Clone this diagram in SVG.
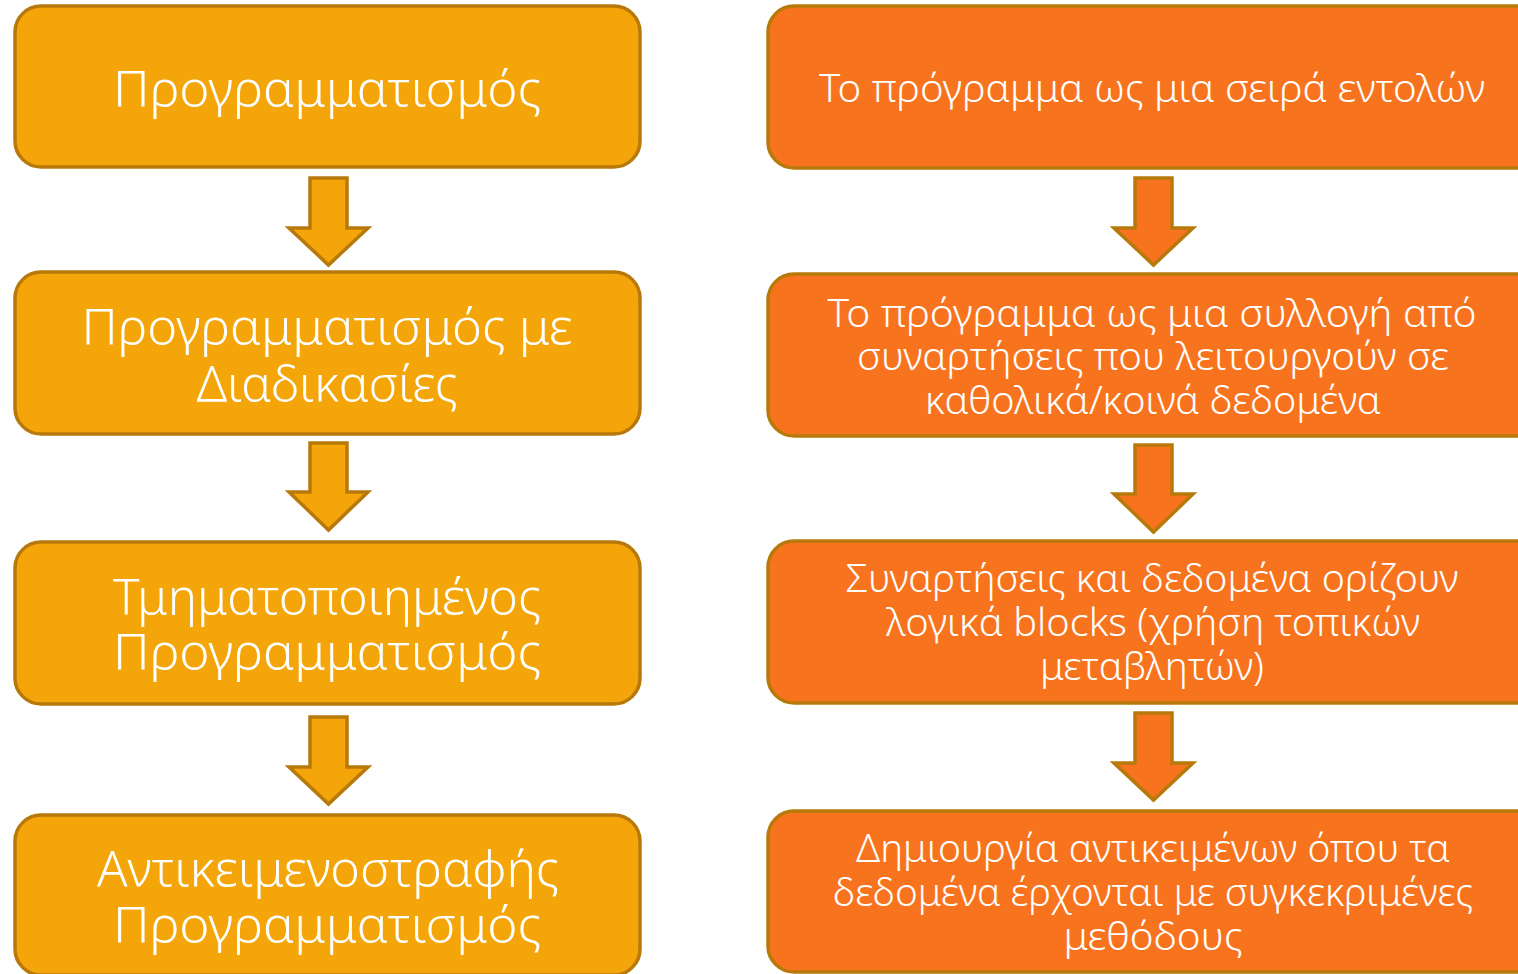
<svg xmlns="http://www.w3.org/2000/svg" width="1518" height="974" viewBox="0 0 1518 974">
<style>
.l{fill:#F3A50A;stroke:#B8790B;stroke-width:3.5}
.r{fill:#F8731E;stroke:#B8790B;stroke-width:3.5}
.tl{font-family:"Noto Sans","DejaVu Sans",sans-serif;font-weight:300;font-size:50px;fill:#fff;text-anchor:middle}
.tr{font-family:"Noto Sans","DejaVu Sans",sans-serif;font-weight:300;font-size:38px;fill:#fff;text-anchor:middle}
</style>
<rect width="1518" height="974" fill="#fff"/>
<g id="connectors">
<path class="l" d="M310,178 H347 V228 H368 L328.5,265 L289,228 H310 Z"/>
<path class="l" d="M310,443 H347 V492 H368 L328.5,530 L289,492 H310 Z"/>
<path class="l" d="M310,717 H347 V767 H368 L328.5,804 L289,767 H310 Z"/>
<path class="r" d="M1135,178 H1172 V228 H1193 L1153.5,265 L1114,228 H1135 Z"/>
<path class="r" d="M1135,445 H1172 V494 H1193 L1153.5,532 L1114,494 H1135 Z"/>
<path class="r" d="M1135,713 H1172 V763 H1193 L1153.5,800 L1114,763 H1135 Z"/>
</g>
<g id="L1"><rect class="l" x="15" y="6" width="625" height="161" rx="26"/>
<text class="tl" x="327" y="107" textLength="428" lengthAdjust="spacingAndGlyphs">Προγραμματισμός</text></g>
<g id="L2"><rect class="l" x="15" y="272" width="625" height="162" rx="26"/>
<text class="tl" x="327" y="345" textLength="491" lengthAdjust="spacingAndGlyphs">Προγραμματισμός με</text>
<text class="tl" x="327" y="402" textLength="261" lengthAdjust="spacingAndGlyphs">Διαδικασίες</text></g>
<g id="L3"><rect class="l" x="15" y="542" width="625" height="162" rx="26"/>
<text class="tl" x="327" y="615" textLength="428" lengthAdjust="spacingAndGlyphs">Τμηματοποιημένος</text>
<text class="tl" x="327" y="670" textLength="428" lengthAdjust="spacingAndGlyphs">Προγραμματισμός</text></g>
<g id="L4"><rect class="l" x="15" y="815" width="625" height="160" rx="26"/>
<text class="tl" x="328" y="887" textLength="462" lengthAdjust="spacingAndGlyphs">Αντικειμενοστραφής</text>
<text class="tl" x="327" y="943" textLength="428" lengthAdjust="spacingAndGlyphs">Προγραμματισμός</text></g>
<g id="R1"><rect class="r" x="768" y="6" width="780" height="162" rx="26"/>
<text class="tr" x="1152" y="102" textLength="666" lengthAdjust="spacingAndGlyphs">Το πρόγραμμα ως μια σειρά εντολών</text></g>
<g id="R2"><rect class="r" x="768" y="274" width="780" height="162" rx="26"/>
<text class="tr" x="1152" y="327" textLength="649" lengthAdjust="spacingAndGlyphs">Το πρόγραμμα ως μια συλλογή από</text>
<text class="tr" x="1153" y="370" textLength="592" lengthAdjust="spacingAndGlyphs">συναρτήσεις που λειτουργούν σε</text>
<text class="tr" x="1153" y="414" textLength="456" lengthAdjust="spacingAndGlyphs">καθολικά/κοινά δεδομένα</text></g>
<g id="R3"><rect class="r" x="768" y="541" width="780" height="162" rx="26"/>
<text class="tr" x="1152" y="592" textLength="613" lengthAdjust="spacingAndGlyphs">Συναρτήσεις και δεδομένα ορίζουν</text>
<text class="tr" x="1153" y="636" textLength="534" lengthAdjust="spacingAndGlyphs">λογικά blocks (χρήση τοπικών</text>
<text class="tr" x="1152" y="680" textLength="224" lengthAdjust="spacingAndGlyphs">μεταβλητών)</text></g>
<g id="R4"><rect class="r" x="768" y="811" width="780" height="161" rx="26"/>
<text class="tr" x="1153" y="862" textLength="594" lengthAdjust="spacingAndGlyphs">Δημιουργία αντικειμένων όπου τα</text>
<text class="tr" x="1153" y="906" textLength="640" lengthAdjust="spacingAndGlyphs">δεδομένα έρχονται με συγκεκριμένες</text>
<text class="tr" x="1153" y="950" textLength="179" lengthAdjust="spacingAndGlyphs">μεθόδους</text></g>
</svg>
